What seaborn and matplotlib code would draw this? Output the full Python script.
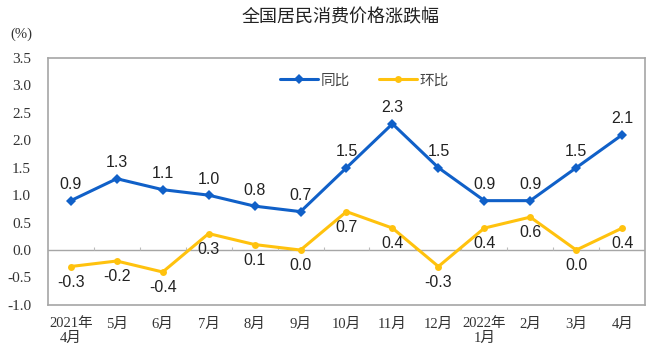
import numpy as np
import pandas as pd
import seaborn as sns
import matplotlib.pyplot as plt

months = ["2021年\n4月", "5月", "6月", "7月", "8月", "9月", "10月", "11月",
          "12月", "2022年\n1月", "2月", "3月", "4月"]
tongbi = [0.9, 1.3, 1.1, 1.0, 0.8, 0.7, 1.5, 2.3, 1.5, 0.9, 0.9, 1.5, 2.1]
huanbi = [-0.3, -0.2, -0.4, 0.3, 0.1, 0.0, 0.7, 0.4, -0.3, 0.4, 0.6, 0.0, 0.4]
yticks = [-1.0, -0.5, 0.0, 0.5, 1.0, 1.5, 2.0, 2.5, 3.0, 3.5]

sns.set_style("white")
plt.rcParams['font.family'] = ['Liberation Sans', 'Noto Sans CJK SC']

df = pd.DataFrame({"x": np.arange(len(months)), "同比": tongbi, "环比": huanbi})

fig = plt.figure(figsize=(6.55, 3.6), dpi=100)
ax = fig.add_axes([0.073, 0.153, 0.912, 0.686])

blue = "#1060C8"
yellow = "#FFC20E"
sns.lineplot(data=df, x="x", y="同比", ax=ax, color=blue, lw=2.2, marker="D",
             markersize=5, markeredgewidth=0, label="同比")
sns.lineplot(data=df, x="x", y="环比", ax=ax, color=yellow, lw=2.2, marker="o",
             markersize=5, markeredgewidth=0, label="环比")

for i, v in enumerate(tongbi):
    ax.annotate(f"{v:.1f}", (i, v), xytext=(0, 6), textcoords="offset points",
                ha="center", va="bottom", fontsize=11.5, color="#222222")
for i, v in enumerate(huanbi):
    ax.annotate(f"{v:.1f}", (i, v), xytext=(0, -6), textcoords="offset points",
                ha="center", va="top", fontsize=11.5, color="#222222")

ax.axhline(0, color="#A6A6A6", lw=1, zorder=0)
ax.vlines(np.arange(0.5, len(months) - 1, 1), 0, 0.06, color="#BBBBBB", lw=0.8, zorder=0)

ax.set_xlim(-0.5, len(months) - 0.5)
ax.set_ylim(-1.0, 3.5)
ax.set_yticks(yticks)
ax.set_yticklabels([f"{t:.1f}" for t in yticks], family=['Liberation Serif'],
                   fontsize=11, color="#333333")
ax.set_xticks(df["x"])
ax.set_xticklabels(months, family=['Liberation Serif', 'Noto Sans CJK SC'],
                   fontsize=10.5, color="#333333", linespacing=1.15)
ax.tick_params(axis="x", length=0, pad=9)
ax.tick_params(axis="y", length=3, direction="in", color="#CCCCCC", pad=12)
ax.set_xlabel("")
ax.set_ylabel("")
for s in ax.spines.values():
    s.set_color("#A6A6A6")
    s.set_linewidth(1.2)

ax.legend(loc="upper center", bbox_to_anchor=(0.53, 0.99), ncol=2, frameon=False,
          fontsize=10.5, handlelength=2.6, handletextpad=0.2, columnspacing=2.0,
          labelcolor="#444444")

fig.text(0.52, 0.95, "全国居民消费价格涨跌幅", ha="center", va="center", fontsize=13,
         color="#222222")
fig.text(0.032, 0.905, "(%)", ha="center", va="center", fontsize=10.5,
         family=['Liberation Serif'], color="#333333")

fig.savefig("out.png", dpi=100)
